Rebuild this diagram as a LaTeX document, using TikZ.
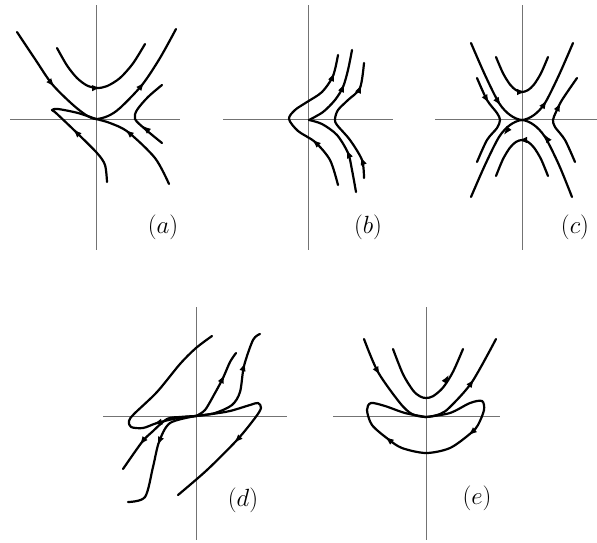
\documentclass[tikz,border=0pt]{standalone}
\usetikzlibrary{arrows.meta}
\tikzset{
  axis/.style={line width=0.9pt, black!55},
  traj/.style={line width=2.2pt, line cap=round, line join=round},
  tiparrow/.style={line width=2.2pt, -{Latex[length=9pt,width=6.5pt]}},
  lbl/.style={font=\fontsize{24}{28}\selectfont, inner sep=0pt}
}
\begin{document}
\begin{tikzpicture}[x=1pt,y=-1pt]
\useasboundingbox (0,0) rectangle (597,542);
% ---------- (a)
\draw[axis] (96,5) -- (96,250);
\draw[axis] (10,119) -- (180,119);
\draw[traj] plot[smooth] coordinates {(57,48) (67,65.5) (77,78) (87,85.5) (97,88) (107,86.1) (120,78) (133,63.4) (145,44)};
\draw[traj] plot[smooth] coordinates {(17,32) (35,59) (52,84) (72,104) (86,115) (96,119) (108,116) (120,108) (142,85) (160,58) (176,29)};
\draw[traj] plot[smooth] coordinates {(107,182) (105,165) (97,153) (76,132) (56,113) (52,110) (58,109) (78,113) (96,119)};
\draw[traj] plot[smooth] coordinates {(169,184) (155,158) (128,132) (110,123) (96,119)};
\draw[traj] plot[smooth] coordinates {(162,143) (145,129) (135,119) (137,110) (148,97) (162,85)};
\draw[tiparrow] (93,88.1) -- (101,87.8);
\draw[tiparrow] (49.4,80.9) -- (54.6,87.1);
\draw[tiparrow] (139.5,88.1) -- (144.5,81.9);
\draw[tiparrow] (79,135) -- (73,129);
\draw[tiparrow] (131,134.5) -- (125,129.5);
\draw[tiparrow] (148,130.5) -- (142,125.5);
\node[lbl] (la) at (163,227) {$(a)$};
% ---------- (b)
\draw[axis] (308,5) -- (308,250);
\draw[axis] (223,119) -- (393,119);
\draw[traj] plot[smooth] coordinates {(338,185) (330,160) (315,142) (298,131) (289,119) (295,110) (307,102) (322,92) (333,76) (338,55)};
\draw[traj] plot[smooth] coordinates {(356,192) (352,170) (348,153) (337,135) (322,124) (309,120)};
\draw[traj] plot[smooth] coordinates {(309,120) (323,112) (335,100) (343,87) (348,70) (352,50)};
\draw[traj] plot[smooth] coordinates {(364,178) (362,160) (350,140) (337,125) (335,119) (338,110) (348,100) (360,88) (364,63)};
\draw[tiparrow] (318,144.7) -- (312,139.3);
\draw[tiparrow] (331.4,79.7) -- (334.6,72.3);
\draw[tiparrow] (349.6,156.7) -- (346.4,149.3);
\draw[tiparrow] (341.4,90.7) -- (344.6,83.3);
\draw[tiparrow] (363.4,163.8) -- (360.6,156.2);
\draw[tiparrow] (358.4,91.7) -- (361.6,84.3);
\node[lbl] (lb) at (368,227) {$(b)$};
% ---------- (c)
\draw[axis] (522,5) -- (522,250);
\draw[axis] (435,119) -- (597,119);
\draw[traj] plot[smooth] coordinates {(496,57) (503,73.2) (510,84.5) (516,90.1) (522,92) (528,90.1) (534,84.5) (541,73.2) (548,57)};
\draw[traj] plot[smooth] coordinates {(548,176) (541,159.1) (534,147.6) (528,141.9) (522,140) (516,141.9) (510,147.6) (503,159.1) (496,176)};
\draw[traj] plot[smooth] coordinates {(471,43) (485,75) (499,103) (510,115) (522,120) (534,115) (545,103) (559,75) (573,43)};
\draw[traj] plot[smooth] coordinates {(572,197) (559,165) (545,137) (534,125) (522,120) (510,125) (499,137) (485,165) (471,197)};
\draw[traj] plot[smooth] coordinates {(477,78) (487,100) (497,113) (500,120) (497,128) (487,140) (477,162)};
\draw[traj] plot[smooth] coordinates {(575,162) (565,140) (555,127) (553,120) (556,112) (562,100) (577,78)};
\draw[tiparrow] (518,92) -- (526,92);
\draw[tiparrow] (526,140) -- (518,140);
\draw[tiparrow] (497,100) -- (501,106);
\draw[tiparrow] (543,106) -- (547,100);
\draw[tiparrow] (548,140) -- (544,134);
\draw[tiparrow] (508.4,128.8) -- (503.6,135.2);
\draw[tiparrow] (485,96.5) -- (489,103.5);
\draw[tiparrow] (557.2,109.6) -- (560.8,102.4);
\node[lbl] (lc) at (575,227) {$(c)$};
% ---------- (d)
\draw[axis] (196,307) -- (196,540);
\draw[axis] (103,416) -- (287,416);
\draw[traj] plot[smooth] coordinates {(196,416) (178,418) (157,423) (143,428) (131,427) (129,421) (134,414) (157,392) (180,364) (196,348) (212,336)};
\draw[traj] plot[smooth] coordinates {(196,416) (212,414) (230,411) (250,405) (258,403) (261,408) (255,418) (237,440) (207,470) (178,495)};
\draw[traj] plot[smooth] coordinates {(196,416) (180,417) (167,419) (152,432) (142,442) (123,469)};
\draw[traj] plot[smooth] coordinates {(196,416) (170,423) (159,442) (153,467) (145,497) (128,502)};
\draw[traj] plot[smooth] coordinates {(196,416) (205,410) (215,393) (223,378) (230,362) (236,353)};
\draw[traj] plot[smooth] coordinates {(196,416) (215,413) (232,405) (240,392) (244,366) (253,340) (260,334)};
\draw[tiparrow] (161,422) -- (153,424);
\draw[tiparrow] (240,437) -- (234,443);
\draw[tiparrow] (144.5,438.8) -- (139.5,445.2);
\draw[tiparrow] (160.5,438.3) -- (157.5,445.7);
\draw[tiparrow] (221.2,381.6) -- (224.8,374.4);
\draw[tiparrow] (242.8,369.8) -- (245.2,362.2);
\node[lbl] (ld) at (243,500) {$(d)$};
% ---------- (e)
\draw[axis] (426,307) -- (426,540);
\draw[axis] (333,416) -- (500,416);
\draw[traj] plot[smooth] coordinates {(393,349) (403,374.2) (413,390.4) (420,396.4) (426,398) (433,396.2) (443,387.6) (453,371.8) (463,349)};
\draw[traj] plot[smooth] coordinates {(364,339) (378,372) (400,403) (412,414) (426,417) (440,414) (450,407) (472,382) (496,339)};
\draw[traj] plot[smooth] coordinates {(426,417) (450,413) (470,403) (482,401) (484,410) (478,425) (471,433) (450,448) (426,453) (402,448) (388,439) (372,425) (367,410) (371,403) (385,406) (405,413) (426,417)};
\draw[tiparrow] (445,381.4) -- (449,374.6);
\draw[tiparrow] (376,368.5) -- (380,375.5);
\draw[tiparrow] (469.7,385.2) -- (474.3,378.8);
\draw[tiparrow] (474,430.5) -- (468,435.5);
\draw[tiparrow] (391,441.4) -- (385,436.6);
\node[lbl] (le) at (477,498) {$(e)$};
\end{tikzpicture}
\end{document}
